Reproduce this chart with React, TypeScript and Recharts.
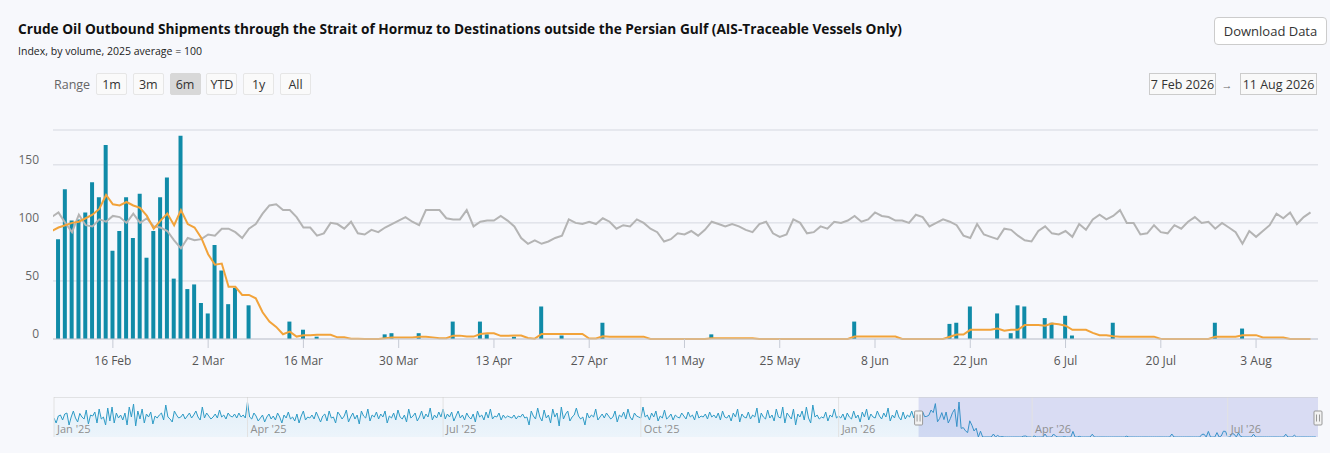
import React from 'react';
import { ComposedChart, Bar, Line, Area, XAxis, YAxis, CartesianGrid, ReferenceArea, ReferenceLine } from 'recharts';

// ---- data (day index t = days since 7 Feb 2026) ----
const shipments = [
  0, 86, 129, 102, 103, 109, 135, 122, 167, 76,
  93, 122, 87, 125, 70, 93, 122, 139, 52, 175,
  43, 47, 31, 22, 81, 59, 30, 44, 0, 29,
  0, 0, 0, 0, 0, 15, 0, 8, 0, 2,
  0, 0, 0, 0, 0, 0, 0, 0, 0, 4,
  5, 0, 0, 0, 5, 0, 0, 0, 0, 15,
  0, 0, 0, 15, 4, 0, 0, 0, 2, 0,
  0, 0, 28, 0, 0, 3, 0, 0, 0, 0,
  0, 14, 0, 0, 0, 0, 0, 0, 0, 0,
  0, 0, 0, 0, 0, 0, 0, 4, 0, 0,
  0, 0, 0, 0, 0, 0, 0, 0, 0, 0,
  0, 0, 0, 0, 0, 0, 0, 0, 15, 0,
  0, 0, 0, 0, 0, 0, 0, 0, 0, 0,
  0, 0, 13, 14, 0, 28, 0, 0, 0, 22,
  0, 5, 29, 28, 0, 0, 18, 14, 0, 20,
  3, 0, 0, 0, 0, 0, 14, 0, 0, 0,
  0, 0, 0, 0, 0, 0, 0, 0, 0, 0,
  0, 14, 0, 0, 0, 9, 0, 0, 0, 0,
  0, 0, 0, 0, 0, 0,
];

const movingAvg = [
  93, 96, 98, 100, 101, 104, 107, 112, 124, 116,
  115, 118, 115, 113, 106, 95, 102, 108, 98, 111,
  99, 96, 87, 73, 64, 65, 45, 45, 38, 38,
  35, 23, 15, 10.4, 4.1, 6.3, 2.1, 3.3, 3.3, 3.6,
  3.6, 3.6, 1.4, 1.4, 0.3, 0.3, 0, 0, 0, 0.6,
  1.3, 1.3, 1.3, 1.3, 2, 2, 1.4, 0.7, 0.7, 2.9,
  2.9, 2.1, 2.1, 4.3, 4.9, 4.9, 2.7, 2.7, 3, 3,
  0.9, 0.3, 4.3, 4.3, 4.3, 4.4, 4.4, 4.4, 4.4, 0.4,
  0.4, 2.4, 2, 2, 2, 2, 2, 2, 0, 0,
  0, 0, 0, 0, 0, 0, 0, 0.6, 0.6, 0.6,
  0.6, 0.6, 0.6, 0.6, 0, 0, 0, 0, 0, 0,
  0, 0, 0, 0, 0, 0, 0, 0, 2.1, 2.1,
  2.1, 2.1, 2.1, 2.1, 2.1, 0, 0, 0, 0, 0,
  0, 0, 1.9, 3.9, 3.9, 7.9, 7.9, 7.9, 7.9, 9.1,
  7.1, 7.9, 8, 12, 12, 12, 11.4, 13.4, 12.7, 11.4,
  7.9, 7.9, 7.9, 5.3, 3.3, 3.3, 2.4, 2, 2, 2,
  2, 2, 2, 0, 0, 0, 0, 0, 0, 0,
  0, 2, 2, 2, 2, 3.3, 3.3, 3.3, 1.3, 1.3,
  1.3, 1.3, 0, 0, 0, 0,
];

const lastYear = [
  105, 109, 100, 92, 107, 98, 97, 103, 101, 106,
  105, 100, 108, 100, 104, 97, 96, 93, 85, 78,
  87, 85, 86, 90, 89, 95, 95, 92, 87, 95,
  99, 108, 115, 116, 111, 111, 105, 96, 96, 89,
  91, 100, 99, 95, 101, 91, 90, 94, 92, 96,
  99, 102, 105, 101, 98, 111, 111, 111, 104, 103,
  103, 111, 97, 101, 102, 102, 106, 102, 97, 87,
  82, 85, 82, 84, 87, 89, 103, 100, 99, 101,
  99, 104, 101, 95, 98, 97, 103, 100, 95, 92,
  84, 86, 91, 90, 93, 89, 94, 101, 99, 97,
  99, 97, 94, 92, 99, 101, 91, 88, 90, 103,
  100, 91, 92, 97, 95, 101, 100, 102, 106, 101,
  103, 109, 106, 105, 102, 102, 100, 107, 105, 97,
  100, 103, 101, 98, 89, 87, 99, 90, 88, 86,
  95, 94, 89, 85, 84, 93, 97, 91, 90, 93,
  88, 99, 94, 103, 107, 103, 106, 111, 100, 100,
  90, 91, 98, 92, 91, 98, 95, 101, 105, 100,
  101, 95, 100, 96, 92, 82, 93, 88, 93, 98,
  108, 104, 109, 99, 105, 109,
];

// navigator history: daily index, 1 Jan 2025 .. 7 Feb 2026
const navHistory = [
  95, 70, 105, 110, 85, 115, 120, 60, 100, 130, 95, 75, 118, 100, 90, 135, 65, 110, 105, 125, 70, 140, 90, 100, 60, 145, 80, 150, 70, 120, 95,
  110, 85, 120, 60, 150, 100, 165, 55, 130, 90, 140, 70, 115, 100, 125, 65, 105, 95, 110, 120, 85, 160, 100, 90, 75, 130, 110, 95,
  100, 115, 90, 105, 120, 95, 110, 130, 100, 85, 150, 95, 120, 105, 90, 100, 115, 95, 135, 100, 110, 90, 120, 105, 100, 115, 95, 120, 100, 110, 95,
  175, 100, 90, 120, 105, 80, 95, 110, 75, 100, 115, 90, 105, 85, 120, 100, 70, 110, 95, 125, 90, 100, 80, 115, 70, 105, 130, 85, 100, 95,
  110, 90, 125, 100, 75, 105, 115, 80, 130, 95, 100, 70, 125, 110, 90, 105, 135, 75, 100, 120, 90, 110, 65, 130, 105, 95, 140, 80, 110, 100, 125,
  90, 115, 100, 130, 70, 105, 95, 120, 85, 135, 100, 90, 110, 75, 140, 95, 105, 120, 80, 100, 130, 90, 115, 100, 145, 85, 110, 95, 125, 100,
  140, 90, 115, 100, 125, 80, 105, 130, 95, 110, 85, 120, 100, 90, 115, 75, 130, 100, 110, 85, 125, 95, 140, 90, 105, 100, 120, 85, 110, 95, 105,
  100, 95, 110, 90, 105, 100, 115, 95, 100, 60, 130, 105, 90, 145, 100, 80, 135, 95, 110, 70, 140, 100, 120, 55, 150, 90, 115, 130, 80, 100, 110,
  145, 105, 90, 100, 60, 120, 95, 110, 100, 140, 85, 100, 115, 95, 120, 105, 90, 100, 130, 75, 110, 100, 125, 90, 140, 100, 85, 120, 105, 100,
  95, 150, 100, 110, 85, 120, 100, 130, 80, 105, 95, 135, 90, 100, 115, 85, 110, 100, 95, 120, 105, 90, 125, 100, 110, 85, 130, 95, 105, 100, 115,
  90, 125, 100, 110, 95, 120, 85, 130, 100, 95, 110, 80, 120, 100, 140, 75, 115, 100, 95, 125, 90, 110, 100, 145, 70, 120, 100, 90, 135, 95,
  110, 80, 140, 100, 95, 150, 70, 120, 105, 90, 140, 60, 115, 100, 130, 85, 150, 95, 70, 160, 100, 110, 90, 100, 95, 125, 80, 110, 100, 140, 95,
  105, 95, 115, 85, 120, 100, 90, 130, 95, 110, 75, 125, 100, 140, 85, 115, 100, 95, 130, 105, 90, 120, 100, 145, 80, 110, 95, 135, 100, 85, 125,
  90, 110, 100, 130, 95, 115, 95,
];

const tickDays = [9, 23, 37, 51, 65, 79, 93, 107, 121, 135, 149, 163, 177];
const tickLabels = ['16 Feb', '2 Mar', '16 Mar', '30 Mar', '13 Apr', '27 Apr', '11 May', '25 May', '8 Jun', '22 Jun', '6 Jul', '20 Jul', '3 Aug'];
const yTicks = [0, 50, 100, 150];

const navMonthDays = [0, 90, 181, 273, 365, 455, 546];
const navMonthLabels = ["Jan '25", "Apr '25", "Jul '25", "Oct '25", "Jan '26", "Apr '26", "Jul '26"];
const navStartOfView = 402; // 7 Feb 2026 in navigator day index

const rangeButtons = ['1m', '3m', '6m', 'YTD', '1y', 'All'];
const selectedRange = '6m';
const fromDate = '7 Feb 2026';
const toDate = '11 Aug 2026';

const TITLE = 'Crude Oil Outbound Shipments through the Strait of Hormuz to Destinations outside the Persian Gulf (AIS-Traceable Vessels Only)';
const SUBTITLE = 'Index, by volume, 2025 average = 100';

// ---- derived tables ----
const mainData = shipments.map((v, t) => ({ t, ship: v, avg: movingAvg[t], ly: lastYear[t] }));
const navData = [
  ...navHistory.map((v, i) => ({ d: i, v })),
  ...shipments.slice(1).map((v, i) => ({ d: navHistory.length + i, v })),
];

const FONT = '"Open Sans", "Noto Sans", sans-serif';
const BG = '#f7f8fc';

const YTick = (props: any) => (
  <text x={props.x} y={props.y - 5} dy="0.35em" textAnchor="end" fill="#666" fontSize={12} fontFamily={FONT}>
    {props.payload.value}
  </text>
);

const NavLabel = (props: any) => {
  const vb = props.viewBox || {};
  return (
    <text x={vb.x + 3} y={vb.y + vb.height - 4} fill="#8f8f8f" fontSize={11} fontFamily={FONT}>
      {props.text}
    </text>
  );
};

const Handle = (props: any) => {
  const vb = props.viewBox || {};
  const cx = vb.x;
  const cy = vb.y + 21;
  return (
    <g>
      <rect x={cx - 4} y={cy - 7} width={8} height={14} fill="#f2f2f2" stroke="#999" strokeWidth={1} rx={1} />
      <line x1={cx - 1.5} y1={cy - 3.5} x2={cx - 1.5} y2={cy + 3.5} stroke="#999" strokeWidth={1} />
      <line x1={cx + 1.5} y1={cy - 3.5} x2={cx + 1.5} y2={cy + 3.5} stroke="#999" strokeWidth={1} />
    </g>
  );
};

const btnBase: React.CSSProperties = {
  position: 'absolute',
  top: 73,
  width: 31,
  height: 22,
  boxSizing: 'border-box',
  border: '1px solid #e6e6e6',
  borderRadius: 2,
  background: '#fafafa',
  fontSize: 12.5,
  color: '#333',
  display: 'flex',
  alignItems: 'center',
  justifyContent: 'center',
  fontFamily: FONT,
};

export default function App() {
  return (
    <div style={{ position: 'absolute', left: 0, top: 0, width: 1330, height: 453, background: BG, overflow: 'hidden', fontFamily: FONT }}>
      <svg width={1330} height={62} style={{ position: 'absolute', left: 0, top: 0 }}>
        <text x={18} y={34} fontSize={14.5} fontWeight={700} fill="#111" fontFamily={FONT} textLength={884} lengthAdjust="spacingAndGlyphs">
          {TITLE}
        </text>
        <text x={18} y={55} fontSize={11} fill="#222" fontFamily={FONT} textLength={184} lengthAdjust="spacingAndGlyphs">
          {SUBTITLE}
        </text>
      </svg>

      <div style={{ position: 'absolute', left: 1214, top: 17, width: 113, height: 28, boxSizing: 'border-box', border: '1px solid #ccc', borderRadius: 4, background: '#fff', fontSize: 13, color: '#333', display: 'flex', alignItems: 'center', justifyContent: 'center' }}>
        Download Data
      </div>

      <div style={{ position: 'absolute', left: 54, top: 73, height: 22, display: 'flex', alignItems: 'center', fontSize: 12.5, color: '#666' }}>Range</div>
      {rangeButtons.map((b, i) => (
        <div key={b} style={{ ...btnBase, left: 96 + i * 36.8, background: b === selectedRange ? '#d8d8d8' : '#fafafa', border: b === selectedRange ? '1px solid #d8d8d8' : '1px solid #e6e6e6' }}>
          {b}
        </div>
      ))}

      <div style={{ position: 'absolute', left: 1149, top: 73, width: 67, height: 22, boxSizing: 'border-box', border: '1px solid #ccc', background: '#f9f9f9', fontSize: 12.5, color: '#333', display: 'flex', alignItems: 'center', justifyContent: 'center' }}>
        {fromDate}
      </div>
      <div style={{ position: 'absolute', left: 1220, top: 73, width: 14, height: 22, display: 'flex', alignItems: 'center', justifyContent: 'center', fontSize: 11, color: '#666' }}>→</div>
      <div style={{ position: 'absolute', left: 1240, top: 73, width: 77, height: 22, boxSizing: 'border-box', border: '1px solid #ccc', background: '#f9f9f9', fontSize: 12.5, color: '#333', display: 'flex', alignItems: 'center', justifyContent: 'center' }}>
        {toDate}
      </div>

      <div style={{ position: 'absolute', left: 0, top: 120 }}>
        <ComposedChart width={1330} height={249} data={mainData} margin={{ top: 10, right: 12, bottom: 0, left: 0 }}>
          <CartesianGrid horizontal vertical={false} stroke="#d5d8e0" />
          <XAxis
            dataKey="t"
            type="number"
            domain={[0.2, 186.1]}
            allowDataOverflow
            ticks={tickDays}
            tickFormatter={(v: number) => tickLabels[tickDays.indexOf(v)] ?? ''}
            height={30}
            axisLine={{ stroke: '#c6cad4' }}
            tickLine={{ stroke: '#c6cad4' }}
            tickSize={9}
            tickMargin={8}
            tick={{ fill: '#555', fontSize: 12, fontFamily: FONT }}
            interval={0}
          />
          <YAxis
            type="number"
            domain={[0, 180]}
            ticks={yTicks}
            width={53}
            axisLine={false}
            tickLine={false}
            tickSize={6}
            tickMargin={8}
            tick={<YTick />}
          />
          <Bar dataKey="ship" fill="#108ba8" barSize={4} isAnimationActive={false} />
          <Line dataKey="ly" type="linear" stroke="#b4b4b4" strokeWidth={2} dot={false} activeDot={false} isAnimationActive={false} />
          <Line dataKey="avg" type="linear" stroke="#f2a33a" strokeWidth={2} dot={false} activeDot={false} isAnimationActive={false} />
        </ComposedChart>
      </div>

      <div style={{ position: 'absolute', left: 0, top: 397 }}>
        <ComposedChart width={1330} height={40} data={navData} margin={{ top: 0, right: 12, bottom: 0, left: 54 }}>
          <defs>
            <linearGradient id="navFill" x1="0" y1="0" x2="0" y2="1">
              <stop offset="0%" stopColor="#cfe7f5" stopOpacity={0.9} />
              <stop offset="100%" stopColor="#e3f1fa" stopOpacity={0.9} />
            </linearGradient>
          </defs>
          <XAxis dataKey="d" type="number" domain={[0, 588]} hide allowDataOverflow />
          <YAxis type="number" domain={[0, 200]} hide allowDataOverflow />
          <Area dataKey="v" type="linear" stroke="#2e9bc6" strokeWidth={1} fill="url(#navFill)" dot={false} activeDot={false} isAnimationActive={false} />
          {navMonthDays.map((d, i) => (
            <ReferenceLine key={d} x={d} stroke="#e2e2e2" strokeWidth={1} label={<NavLabel text={navMonthLabels[i]} />} />
          ))}
          <ReferenceLine y={200} stroke="#cccccc" strokeWidth={1} />
          <ReferenceArea x1={navStartOfView + 0.2} x2={588} y1={0} y2={200} fill="rgb(102,110,210)" fillOpacity={0.2} stroke="none" />
          <ReferenceLine x={navStartOfView + 0.2} stroke="none" label={<Handle />} />
          <ReferenceLine x={588} stroke="none" label={<Handle />} />
        </ComposedChart>
      </div>
    </div>
  );
}
